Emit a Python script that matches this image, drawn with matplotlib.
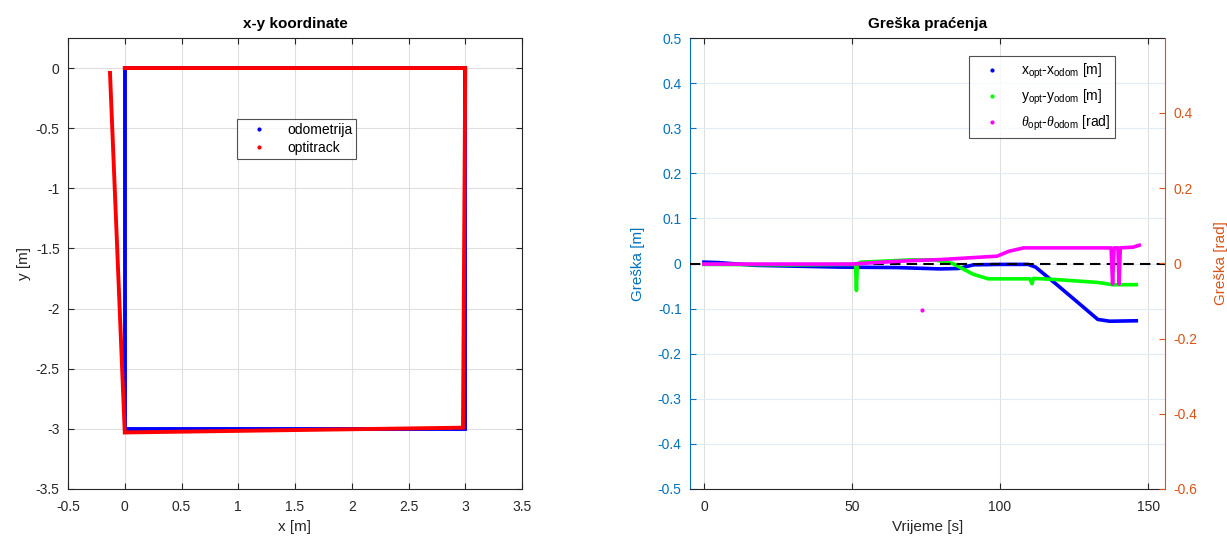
import matplotlib
matplotlib.use("Agg")
import matplotlib.pyplot as plt
from matplotlib.lines import Line2D
from matplotlib.ticker import FuncFormatter

plt.rcParams['font.family'] = ['Liberation Sans', 'DejaVu Sans']
plt.rcParams['mathtext.fontset'] = 'custom'
plt.rcParams['mathtext.rm'] = 'Liberation Sans'
plt.rcParams['mathtext.it'] = 'Liberation Serif:italic'

# ---- data: x-y trajectory ----
odom_x = [0, 3, 3, 0, 0]
odom_y = [0, 0, -3, -3, 0]
opt_x = [0, 3, 2.98, 0.0, -0.13]
opt_y = [0, 0, -2.99, -3.03, -0.04]

# ---- data: tracking error ----
t_ex = [0, 5, 17, 46, 65, 80, 86, 91, 100, 109.5, 112, 119, 128, 133, 137, 146]
ex = [0.003, 0.002, -0.004, -0.008, -0.009, -0.012, -0.011, -0.003, -0.002, -0.002,
      -0.008, -0.046, -0.096, -0.124, -0.128, -0.127]

t_ey = [0, 30, 51.2, 51.5, 51.8, 53, 60, 70, 78, 84, 91, 96, 110, 110.8, 111.3,
        120, 133, 138, 146]
ey = [-0.002, -0.003, -0.002, -0.06, -0.001, 0.003, 0.005, 0.008, 0.008, 0.0,
      -0.024, -0.034, -0.034, -0.045, -0.033, -0.036, -0.042, -0.047, -0.047]

t_eth = [0, 50, 60, 70, 80, 99, 103, 108, 137.5, 138, 138.5, 139.8, 140.2, 140.6,
         145, 147]
eth = [-0.002, -0.002, 0.003, 0.007, 0.01, 0.019, 0.032, 0.041, 0.041, -0.055,
       0.041, 0.041, -0.055, 0.041, 0.043, 0.048]
t_eth_out = [73.6]
eth_out = [-0.124]

blue_ax = '#0072BD'
orange_ax = '#D95319'
dark = '#262626'

fmt = FuncFormatter(lambda v, p: '%g' % round(v, 4))

fig = plt.figure(figsize=(12.27, 5.40), dpi=100)

# ---------------- left plot ----------------
ax1 = fig.add_axes([68/1227, 51/540, 454/1227, 451/540])
ax1.plot(odom_x, odom_y, color='#0000FF', lw=2.8, solid_joinstyle='miter', zorder=3)
ax1.plot(opt_x, opt_y, color='#FF0000', lw=2.8, solid_joinstyle='miter', zorder=4)
ax1.set_xlim(-0.5, 3.5)
ax1.set_ylim(-3.5, 0.25)
ax1.set_xticks([-0.5, 0, 0.5, 1, 1.5, 2, 2.5, 3, 3.5])
ax1.set_yticks([-3.5, -3, -2.5, -2, -1.5, -1, -0.5, 0])
ax1.xaxis.set_major_formatter(fmt)
ax1.yaxis.set_major_formatter(fmt)
ax1.grid(True, color='#DFDFDF', lw=0.8)
ax1.set_axisbelow(True)
ax1.tick_params(direction='in', top=True, right=True, labelsize=10, colors=dark,
                length=4)
ax1.tick_params(axis='x', pad=8)
ax1.tick_params(axis='y', pad=6)
for s in ax1.spines.values():
    s.set_color(dark)
    s.set_linewidth(0.8)
ax1.set_xlabel('x [m]', fontsize=11, color=dark, labelpad=4)
ax1.set_ylabel('y [m]', fontsize=11, color=dark)
ax1.yaxis.set_label_coords(-0.082, 0.5)
ax1.set_title('x-y koordinate', fontsize=11, fontweight='bold', pad=7)
h1 = [Line2D([], [], ls='none', marker='.', ms=4, color='#0000FF'),
      Line2D([], [], ls='none', marker='.', ms=4, color='#FF0000')]
leg1 = ax1.legend(h1, ['odometrija', 'optitrack'], loc='upper left',
                  bbox_to_anchor=(0.357, 0.836), fontsize=10, frameon=True,
                  fancybox=False, edgecolor=dark, handlelength=2.5,
                  borderpad=0.3, labelspacing=0.3)
leg1.get_frame().set_linewidth(0.8)

# ---------------- right plot ----------------
ax2 = fig.add_axes([690/1227, 51/540, 475/1227, 451/540])
ax2.plot(t_ex, ex, color='#0000FF', lw=2.6, zorder=3)
ax2.plot(t_ey, ey, color='#00FF00', lw=2.6, zorder=3)
ax2.axhline(0, color='black', lw=1.5, ls=(0, (5, 3)), zorder=4)
ax2.set_xlim(-4.7, 155.7)
ax2.set_ylim(-0.5, 0.5)
ax2.set_xticks([0, 50, 100, 150])
ax2.set_yticks([-0.5, -0.4, -0.3, -0.2, -0.1, 0, 0.1, 0.2, 0.3, 0.4, 0.5])
ax2.yaxis.set_major_formatter(fmt)
ax2.xaxis.grid(True, color='#DFDFDF', lw=0.8)
ax2.yaxis.grid(True, color='#E0ECF6', lw=0.8)
ax2.set_axisbelow(True)
ax2.tick_params(axis='x', direction='in', top=True, labelsize=10, colors=dark,
                length=4, pad=8)
ax2.tick_params(axis='y', direction='in', labelsize=10, colors=blue_ax, length=4,
                pad=6)
for k, s in ax2.spines.items():
    s.set_color(dark)
    s.set_linewidth(0.8)
ax2.spines['left'].set_color(blue_ax)
ax2.spines['right'].set_visible(False)
ax2.set_xlabel('Vrijeme [s]', fontsize=11, color=dark, labelpad=4)
ax2.set_ylabel('Greška [m]', fontsize=11, color=blue_ax)
ax2.yaxis.set_label_coords(-0.095, 0.5)
ax2.set_title('Greška praćenja', fontsize=11, fontweight='bold', pad=7)

ax3 = ax2.twinx()
ax3.plot(t_eth, eth, color='#FF00FF', lw=2.6, zorder=5)
ax3.plot(t_eth_out, eth_out, ls='none', marker='.', ms=4, color='#FF00FF')
ax3.set_ylim(-0.6, 0.599)
ax3.set_yticks([-0.6, -0.4, -0.2, 0, 0.2, 0.4])
ax3.yaxis.set_major_formatter(fmt)
ax3.tick_params(axis='y', direction='in', labelsize=10, colors=orange_ax, length=4,
                pad=6)
for k, s in ax3.spines.items():
    s.set_visible(False)
ax3.spines['right'].set_visible(True)
ax3.spines['right'].set_color(orange_ax)
ax3.spines['right'].set_linewidth(0.8)
ax3.set_ylabel('Greška [rad]', fontsize=11, color=orange_ax)
ax3.yaxis.set_label_coords(1.103, 0.5)

h2 = [Line2D([], [], ls='none', marker='.', ms=4, color='#0000FF'),
      Line2D([], [], ls='none', marker='.', ms=4, color='#00FF00'),
      Line2D([], [], ls='none', marker='.', ms=4, color='#FF00FF')]
labels2 = [r'x$_{\rm opt}$-x$_{\rm odom}$ [m]',
           r'y$_{\rm opt}$-y$_{\rm odom}$ [m]',
           r'$\theta_{\rm opt}$-$\theta_{\rm odom}$ [rad]']
leg2 = ax3.legend(h2, labels2, loc='upper left', bbox_to_anchor=(0.573, 0.975),
                  fontsize=10, frameon=True, fancybox=False, edgecolor=dark,
                  handlelength=2.5, borderpad=0.4, labelspacing=0.5)
leg2.get_frame().set_linewidth(0.8)

fig.savefig('out.png', dpi=100)
